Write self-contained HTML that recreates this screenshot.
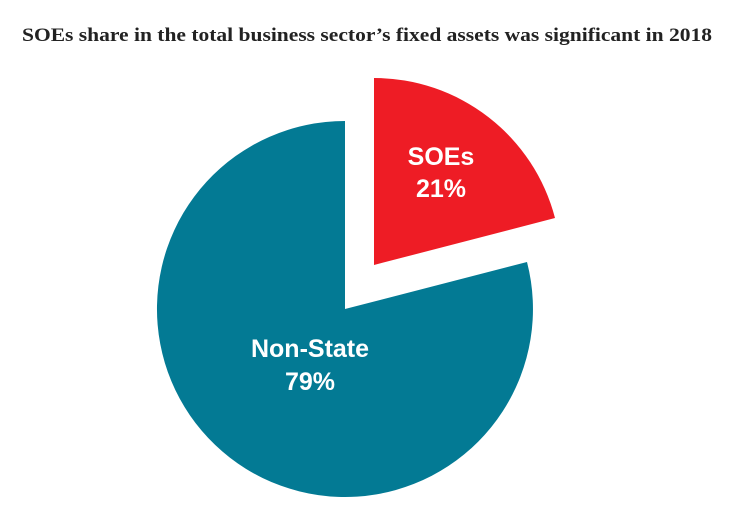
<!DOCTYPE html>
<html><head><meta charset="utf-8"><style>
body{margin:0;background:#fff;width:748px;height:511px;overflow:hidden}
</style></head><body>
<svg width="748" height="511" style="position:absolute;left:0;top:0">
<text x="22" y="41" font-family="Liberation Serif, serif" font-size="19" font-weight="bold" fill="#222" textLength="690" lengthAdjust="spacingAndGlyphs">SOEs share in the total business sector’s fixed assets was significant in 2018</text>
<path d="M345,309 L345,121 A188,188 0 1,0 527,262 Z" fill="#037a94"/>
<path d="M374,265 L374,78 A187,187 0 0,1 555,218 Z" fill="#ee1c25"/>
<g font-family="Liberation Sans, sans-serif" fill="#fff" font-size="25" font-weight="bold" text-anchor="middle">
<text x="441" y="165">SOEs</text>
<text x="441" y="197">21%</text>
<text x="310" y="357">Non-State</text>
<text x="310" y="390">79%</text>
</g>
</svg>
</body></html>
